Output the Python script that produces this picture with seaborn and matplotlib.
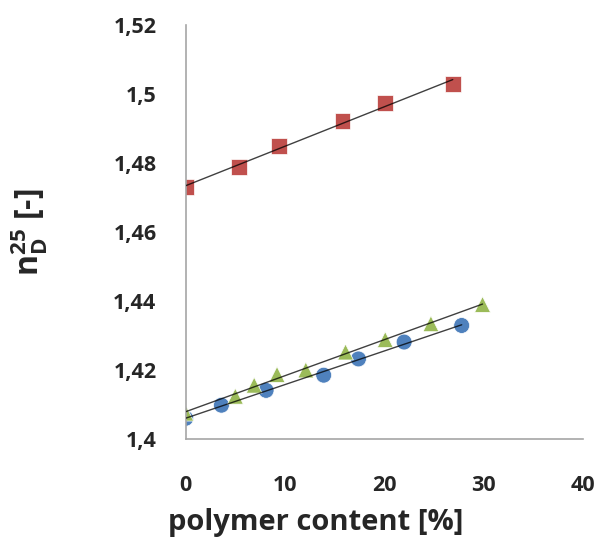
import numpy as np
import pandas as pd
import seaborn as sns
import matplotlib.pyplot as plt

# values
red_x = [0, 5.4, 9.4, 15.8, 20.1, 26.9]
red_y = [1.4730, 1.4788, 1.4849, 1.4921, 1.4974, 1.5029]
blue_x = [0, 3.6, 8.1, 13.9, 17.4, 22.0, 27.8]
blue_y = [1.4060, 1.4098, 1.4141, 1.4185, 1.4232, 1.4281, 1.4329]
green_x = [0, 5.0, 6.9, 9.2, 12.1, 16.1, 20.1, 24.7, 29.9]
green_y = [1.4075, 1.4124, 1.4156, 1.4187, 1.4200, 1.4252, 1.4288, 1.4334, 1.4390]

x_ticks = [0, 10, 20, 30, 40]
y_ticks = [1.40, 1.42, 1.44, 1.46, 1.48, 1.50, 1.52]
y_tick_labels = ["1,4", "1,42", "1,44", "1,46", "1,48", "1,5", "1,52"]

df = pd.concat([
    pd.DataFrame({"x": red_x, "y": red_y, "serie": "red"}),
    pd.DataFrame({"x": blue_x, "y": blue_y, "serie": "blue"}),
    pd.DataFrame({"x": green_x, "y": green_y, "serie": "green"}),
], ignore_index=True)

kolory = {"red": "#C0504D", "blue": "#4F81BD", "green": "#9BBB59"}
markery = {"red": "s", "blue": "o", "green": "^"}

sns.set_style("white")
plt.rcParams["font.family"] = ["Open Sans", "DejaVu Sans"]
plt.rcParams["mathtext.fontset"] = "custom"
plt.rcParams["mathtext.rm"] = "Open Sans:bold"
plt.rcParams["mathtext.bf"] = "Open Sans:bold"

fig = plt.figure(figsize=(5.99, 5.41), dpi=100)
ax = fig.add_axes([0.31, 0.1885, 0.663, 0.7655])

sns.scatterplot(data=df, x="x", y="y", hue="serie", style="serie",
                palette=kolory, markers=markery, s=130, linewidth=0.5,
                edgecolor="white", legend=False, ax=ax, zorder=2)

# linie trendu
for serie, d in df.groupby("serie"):
    sns.regplot(data=d, x="x", y="y", scatter=False, ci=None, ax=ax,
                line_kws={"color": "black", "lw": 1.0, "alpha": 0.75, "zorder": 3})

ax.set_xlim(0, 40)
ax.set_ylim(1.40, 1.52)
ax.set_xticks(x_ticks)
ax.set_yticks(y_ticks)
ax.set_yticklabels(y_tick_labels)

for s in ["top", "right"]:
    ax.spines[s].set_visible(False)
for s in ["left", "bottom"]:
    ax.spines[s].set_color("#A6A6A6")
    ax.spines[s].set_linewidth(1.2)

ax.tick_params(axis="y", direction="in", length=7, width=1.2, color="#A6A6A6",
               pad=21, labelsize=15.5)
ax.tick_params(axis="x", length=0, pad=26, labelsize=15.5)
for lab in ax.get_xticklabels() + ax.get_yticklabels():
    lab.set_fontweight("bold")

ax.set_xlabel("polymer content [%]", fontsize=21, fontweight="bold")
ax.set_ylabel(r"n$_{\mathrm{D}}^{\mathrm{25}}$ [-]", fontsize=23, fontweight="bold")
ax.xaxis.set_label_coords(0.328, -0.166)
ax.yaxis.set_label_coords(-0.342, 0.5)

plt.savefig("out.png", dpi=100)
